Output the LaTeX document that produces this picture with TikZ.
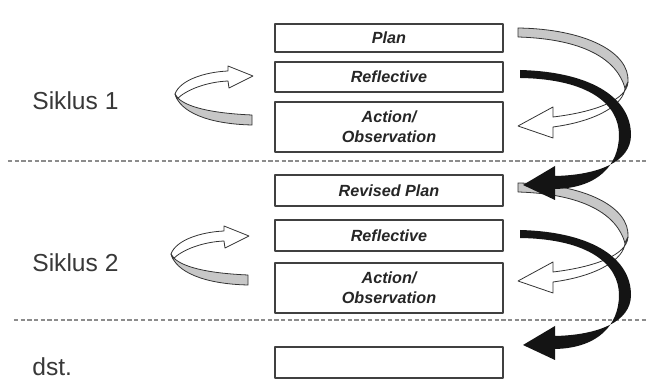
\documentclass[tikz,border=0pt]{standalone}
\usepackage{fontspec}
\setmainfont{Liberation Sans}
\begin{document}
\begin{tikzpicture}[x=0.02cm, y=-0.02cm, line join=round,
    stage/.style={draw=black!75, line width=0.8pt, fill=white, minimum width=4.56cm,
      inner sep=0pt, align=center, text=black!85,
      font=\fontsize{9.2}{11.5}\selectfont\bfseries\itshape},
    cycle/.style={inner sep=0pt, anchor=base west, text=black!78,
      font=\fontsize{14}{16}\selectfont},
    sep/.style={draw=black!45, line width=1pt, dash pattern=on 2.4pt off 1.4pt},
    face/.style={draw=black!80, line width=0.45pt},
    band/.style={face, fill=black!22}]
  \fill[white] (0,0) rectangle (647,381);
  \useasboundingbox (0,0) rectangle (647,381);
  % Tahapan
  \node[stage, minimum height=0.56cm] (plan1) at (389,38) {Plan};
  \node[stage, minimum height=0.6cm] (refl1) at (389,77) {Reflective};
  \node[stage, minimum height=1cm] (act1) at (389,127) {Action/\\Observation};
  \node[stage, minimum height=0.62cm] (plan2) at (389,190.5) {Revised Plan};
  \node[stage, minimum height=0.62cm] (refl2) at (389,235.5) {Reflective};
  \node[stage, minimum height=1cm] (act2) at (389,288) {Action/\\Observation};
  \node[stage, minimum height=0.62cm] (next) at (389,362.5) {};
  \node[cycle] (s1) at (32,110) {Siklus 1};
  \node[cycle] (s2) at (32,272) {Siklus 2};
  \node[cycle] (dst) at (32,376) {dst.};
  \draw[sep] (8,161) -- (647,161);
  \draw[sep] (14,320) -- (647,320);
  % panah kiri
  \begin{scope}
    \filldraw[face, fill=white] (175,94) .. controls (180,80) and (205,72) .. (228,71)
      -- (228,66) -- (253,76) -- (229,88) -- (228,81)
      .. controls (206,82) and (186,90) .. (177,99) -- cycle;
    \filldraw[band] (175,94) .. controls (180,105) and (205,113) .. (252,115)
      -- (252,125) .. controls (208,124) and (180,112) .. (175,94) -- cycle;
  \end{scope}
  \begin{scope}[shift={(-4,160)}]
    \filldraw[face, fill=white] (175,94) .. controls (180,80) and (205,72) .. (228,71)
      -- (228,66) -- (253,76) -- (229,88) -- (228,81)
      .. controls (206,82) and (186,90) .. (177,99) -- cycle;
    \filldraw[band] (175,94) .. controls (180,105) and (205,113) .. (252,115)
      -- (252,125) .. controls (208,124) and (180,112) .. (175,94) -- cycle;
  \end{scope}
  % panah kanan
  \begin{scope}
    \filldraw[band] (518,28) .. controls (585,29) and (630,52) .. (628,82)
      -- (625,88) .. controls (617,60) and (585,39) .. (518,37) -- cycle;
    \filldraw[face, fill=white] (628,82) .. controls (627,100) and (595,112) .. (553,117)
      -- (553,107) -- (518,126) -- (553,138) -- (553,127)
      .. controls (598,121) and (624,104) .. (625,88) -- cycle;
  \end{scope}
  \begin{scope}[shift={(0,155)}]
    \filldraw[band] (518,28) .. controls (585,29) and (630,52) .. (628,82)
      -- (625,88) .. controls (617,60) and (585,39) .. (518,37) -- cycle;
    \filldraw[face, fill=white] (628,82) .. controls (627,100) and (595,112) .. (553,117)
      -- (553,107) -- (518,126) -- (553,138) -- (553,127)
      .. controls (598,121) and (624,104) .. (625,88) -- cycle;
  \end{scope}
  \foreach \dy in {0,160}{
    \fill[black!92, shift={(0,\dy)}] (520,70) .. controls (595,72) and (631,100) .. (631,135)
      .. controls (631,162) and (598,175) .. (555,176)
      -- (555,166) -- (523,185) -- (555,200) -- (555,189)
      .. controls (598,188) and (619,165) .. (619,135)
      .. controls (619,105) and (590,79) .. (520,78) -- cycle;
  }
\end{tikzpicture}
\end{document}
